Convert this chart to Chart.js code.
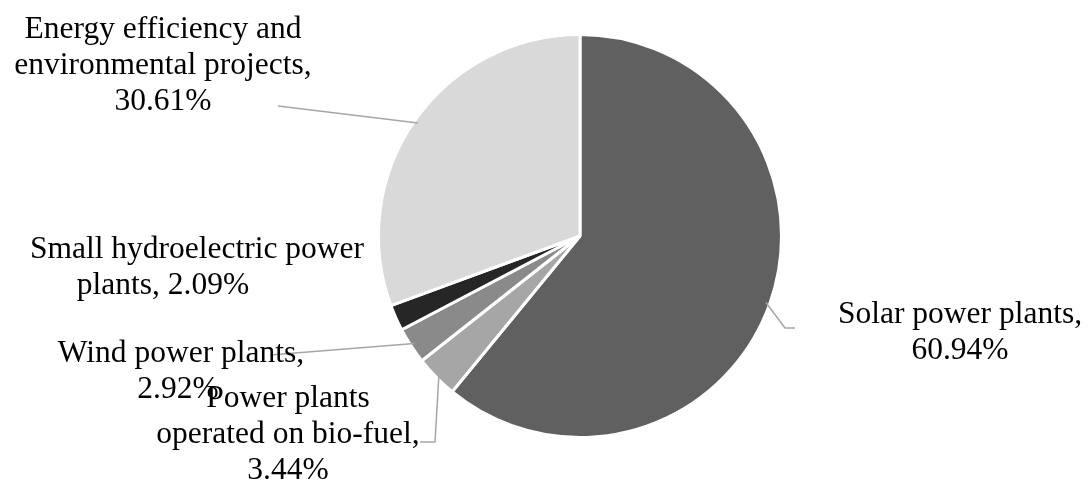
<!DOCTYPE html>
<html>
<head>
<meta charset="utf-8">
<script src="https://cdn.jsdelivr.net/npm/chart.js@4.4.0/dist/chart.umd.min.js"></script>
<style>
  html, body { margin: 0; padding: 0; background: #fff; }
  #wrap { width: 1088px; height: 482px; position: relative; }
</style>
</head>
<body>
<div id="wrap"><canvas id="myChart"></canvas></div>
<script>
// chart data
const categories = [
    "Solar power plants",
    "Power plants operated on bio-fuel",
    "Wind power plants",
    "Small hydroelectric power plants",
    "Energy efficiency and environmental projects"
];
const shares = [60.94, 3.44, 2.92, 2.09, 30.61];
const sliceColors = ["#606060", "#a6a6a6", "#8a8a8a", "#262626", "#d9d9d9"];

// label text lines, as wrapped in the original
const labelLines = [
    ["Solar power plants,", "60.94%"],
    ["Power plants", "operated on bio-fuel,", "3.44%"],
    ["Wind power plants,", "2.92%"],
    ["Small hydroelectric power", "plants, 2.09%"],
    ["Energy efficiency and", "environmental projects,", "30.61%"]
];
// where each label block sits (centre x of each line, first baseline y)
const labelPlace = [
    { xs: [960, 960], y: 323 },
    { xs: [288, 288, 288], y: 407 },
    { xs: [181, 178], y: 362 },
    { xs: [197, 163], y: 258 },
    { xs: [163, 163, 163], y: 38 }
];
// leader line bends (after leaving the slice edge), null = no line
const leaderBends = [
    [[785, 328], [795, 328]],
    [[435, 442], [420, 442]],
    [[270, 355]],
    null,
    [[278, 106]]
];

const lineHeight = 36;

const labelPlugin = {
    id: "sliceLabels",
    afterDatasetsDraw(chart) {
        const ctx = chart.ctx;
        const meta = chart.getDatasetMeta(0);
        ctx.save();
        // leader lines
        ctx.strokeStyle = "#a6a6a6";
        ctx.lineWidth = 1.5;
        meta.data.forEach((arc, i) => {
            const bends = leaderBends[i];
            if (!bends) return;
            const mid = (arc.startAngle + arc.endAngle) / 2;
            const r = arc.outerRadius - 4;
            ctx.beginPath();
            ctx.moveTo(arc.x + Math.cos(mid) * r, arc.y + Math.sin(mid) * r);
            bends.forEach(p => ctx.lineTo(p[0], p[1]));
            ctx.stroke();
        });
        // text
        ctx.fillStyle = "#000";
        ctx.font = "31.5px 'Liberation Serif', 'Times New Roman', serif";
        ctx.textAlign = "center";
        ctx.textBaseline = "alphabetic";
        labelLines.forEach((lines, i) => {
            const place = labelPlace[i];
            lines.forEach((t, j) => {
                ctx.fillText(t, place.xs[j], place.y + j * lineHeight);
            });
        });
        ctx.restore();
    }
};

new Chart("myChart", {
    type: "pie",
    data: {
        labels: categories,
        datasets: [{
            data: shares,
            backgroundColor: sliceColors,
            borderColor: "#ffffff",
            borderWidth: 3
        }]
    },
    options: {
        responsive: true,
        maintainAspectRatio: false,
        animation: false,
        layout: {
            padding: { left: 377, right: 305, top: 31, bottom: 41 }
        },
        plugins: {
            legend: { display: false },
            tooltip: { enabled: false }
        }
    },
    plugins: [labelPlugin]
});
</script>
</body>
</html>
